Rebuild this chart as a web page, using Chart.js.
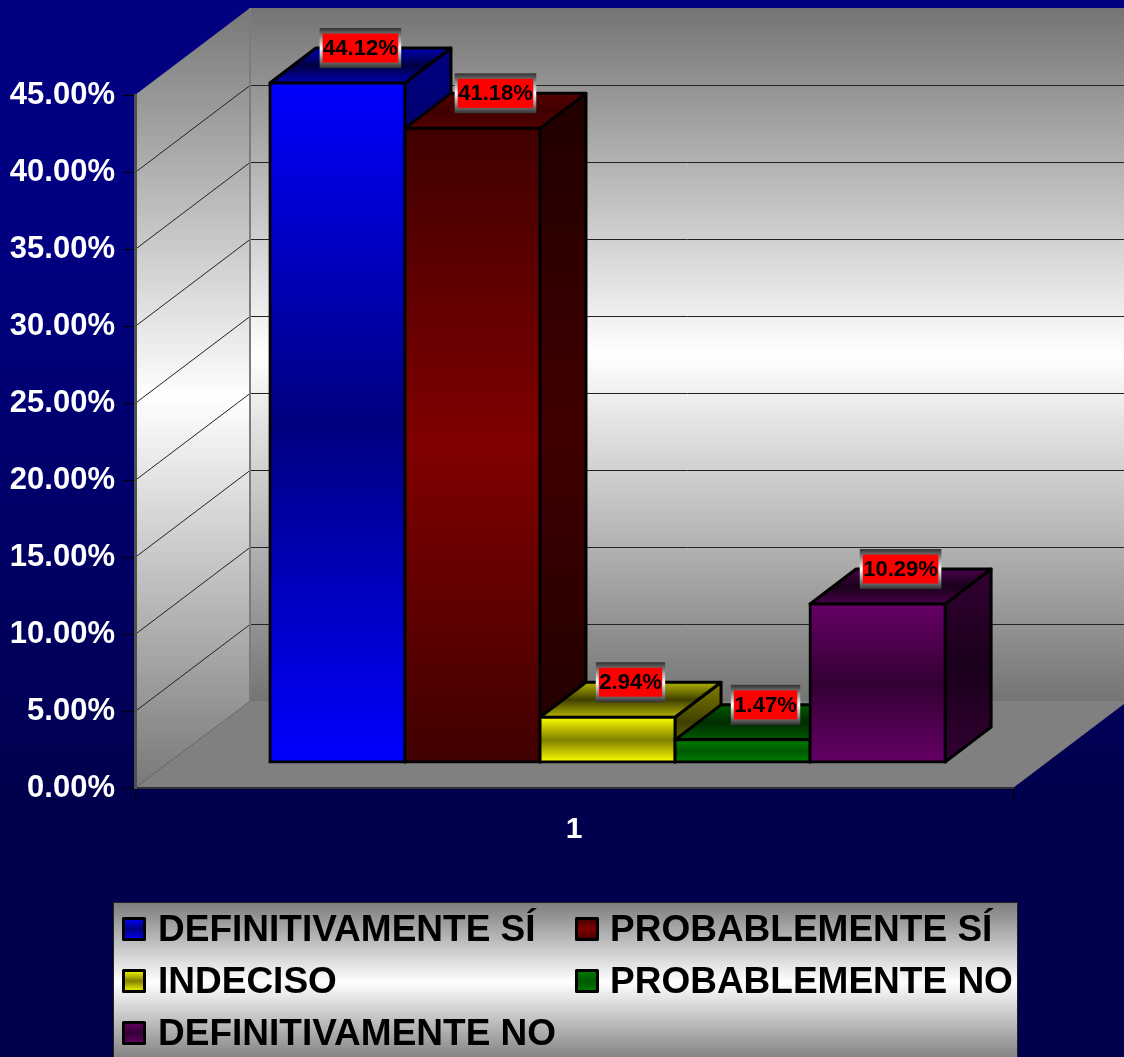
<!DOCTYPE html>
<html>
<head>
<meta charset="utf-8">
<title>Chart</title>
<script src="https://cdn.jsdelivr.net/npm/chart.js@4"></script>
<style>
    html, body { margin: 0; padding: 0; }
    body { width: 1124px; height: 1057px; overflow: hidden; background: linear-gradient(#000080 0, #000080 250px, #00004e 800px, #00004e 1057px); }
    canvas { display: block; }
</style>
</head>
<body>
<canvas id="myChart" width="1124" height="1057"></canvas>
<script>
// Chart data
const categories = ['1'];
const seriesNames = ['DEFINITIVAMENTE SÍ', 'PROBABLEMENTE SÍ', 'INDECISO', 'PROBABLEMENTE NO', 'DEFINITIVAMENTE NO'];
const seriesValues = [44.12, 41.18, 2.94, 1.47, 10.29];
const yTickValues = [0, 5, 10, 15, 20, 25, 30, 35, 40, 45];

// Bar colours: top/bottom of the front face and its middle
const edgeColors = ['#0000ff', '#400000', '#ffff00', '#008000', '#660066'];
const midColors = ['#000080', '#800000', '#808000', '#005800', '#330033'];

const FONT = '"Liberation Sans", Arial, sans-serif';
const WALL_DX = 115, WALL_DY = 87;     // depth of the floor
const SHIFT_X = 33.5, SHIFT_Y = -25.5; // bars stand a bit inside the floor
const BAR_DX = 46, BAR_DY = 35;        // depth of a bar

function shade(hex, f) {
    const n = parseInt(hex.slice(1), 16);
    const c = [n >> 16, (n >> 8) & 255, n & 255].map(v => Math.min(255, Math.round(v * f)));
    return `rgb(${c[0]},${c[1]},${c[2]})`;
}

function bandGradient(ctx, y0, y1, edge, mid) {
    const g = ctx.createLinearGradient(0, y0, 0, y1);
    g.addColorStop(0, edge);
    g.addColorStop(0.5, mid);
    g.addColorStop(1, edge);
    return g;
}

function poly(ctx, pts, fill) {
    ctx.beginPath();
    pts.forEach((p, i) => i ? ctx.lineTo(p[0], p[1]) : ctx.moveTo(p[0], p[1]));
    ctx.closePath();
    ctx.fillStyle = fill;
    ctx.fill();
    ctx.stroke();
}

// Back wall, side wall and floor
const wallsPlugin = {
    id: 'walls',
    beforeDraw(chart) {
        const ctx = chart.ctx;
        const a = chart.chartArea;
        const y = chart.scales.y;
        const zero = y.getPixelForValue(0);
        const top = y.getPixelForValue(45);
        ctx.save();
        ctx.fillStyle = bandGradient(ctx, top - WALL_DY, zero - WALL_DY, '#747474', '#ffffff');
        ctx.fillRect(a.left + WALL_DX, top - WALL_DY, a.right - a.left, zero - top);
        ctx.fillStyle = bandGradient(ctx, top - WALL_DY, zero, '#787878', '#ffffff');
        ctx.beginPath();
        ctx.moveTo(a.left, zero);
        ctx.lineTo(a.left, top);
        ctx.lineTo(a.left + WALL_DX, top - WALL_DY);
        ctx.lineTo(a.left + WALL_DX, zero - WALL_DY);
        ctx.closePath();
        ctx.fill();
        ctx.fillStyle = '#808080';
        ctx.beginPath();
        ctx.moveTo(a.left, zero);
        ctx.lineTo(a.left + WALL_DX, zero - WALL_DY);
        ctx.lineTo(a.right + WALL_DX, zero - WALL_DY);
        ctx.lineTo(a.right, zero);
        ctx.closePath();
        ctx.fill();
        // gridlines
        ctx.strokeStyle = '#222';
        ctx.lineWidth = 1;
        yTickValues.slice(1, -1).forEach(v => {
            const p = Math.round(y.getPixelForValue(v)) + 0.5;
            ctx.beginPath();
            ctx.moveTo(a.left, p);
            ctx.lineTo(a.left + WALL_DX, p - WALL_DY);
            ctx.lineTo(a.right + WALL_DX, p - WALL_DY);
            ctx.stroke();
        });
        ctx.strokeStyle = '#7c7c7c';
        ctx.lineWidth = 2;
        ctx.beginPath();
        ctx.moveTo(a.left + WALL_DX, top - WALL_DY);
        ctx.lineTo(a.left + WALL_DX, zero - WALL_DY);
        ctx.stroke();
        ctx.restore();
    }
};

// Bars go left to right so each one covers the side of the one before it
const depthPlugin = {
    id: 'depth',
    beforeDatasetsDraw(chart) {
        const ctx = chart.ctx;
        seriesValues.forEach((v, i) => {
            const meta = chart.getDatasetMeta(i);
            const bar = meta.data[0];
            const l = bar.x - bar.width / 2 + SHIFT_X;
            const r = bar.x + bar.width / 2 + SHIFT_X;
            const t = bar.y + SHIFT_Y;
            const b = bar.base + SHIFT_Y;
            ctx.save();
            ctx.strokeStyle = '#000';
            ctx.lineWidth = 3;
            ctx.lineJoin = 'round';
            poly(ctx, [[r, t], [r + BAR_DX, t - BAR_DY], [r + BAR_DX, b - BAR_DY], [r, b]],
                bandGradient(ctx, t - BAR_DY, b, shade(edgeColors[i], 0.5), shade(midColors[i], 0.5)));
            poly(ctx, [[l, t], [l + BAR_DX, t - BAR_DY], [r + BAR_DX, t - BAR_DY], [r, t]],
                bandGradient(ctx, t - BAR_DY, t, shade(edgeColors[i], i === 1 ? 1.3 : 0.7), shade(midColors[i], 0.5)));
            ctx.translate(SHIFT_X, SHIFT_Y);
            meta.controller.draw();
            ctx.restore();
        });
    },
    beforeDatasetDraw() {
        return false; // already drawn above
    }
};

// Red value boxes above the bars
const valueBoxPlugin = {
    id: 'valueBox',
    afterDatasetsDraw(chart) {
        const ctx = chart.ctx;
        ctx.save();
        ctx.font = 'bold 22px ' + FONT;
        ctx.textAlign = 'center';
        ctx.textBaseline = 'middle';
        seriesValues.forEach((v, i) => {
            const bar = chart.getDatasetMeta(i).data[0];
            const cx = bar.x + SHIFT_X + BAR_DX / 2;
            const cy = bar.y + SHIFT_Y - BAR_DY;
            const text = v.toFixed(2) + '%';
            const w = ctx.measureText(text).width + 7;
            ctx.fillStyle = bandGradient(ctx, cy - 20, cy + 20, '#303030', '#ffffff');
            ctx.fillRect(cx - w / 2, cy - 20, w, 40);
            ctx.fillStyle = '#ff0000';
            ctx.fillRect(cx - w / 2 + 3, cy - 14.5, w - 6, 29);
            ctx.fillStyle = '#000';
            ctx.fillText(text, cx, cy + 1);
        });
        ctx.restore();
    }
};

// Legend box, cut off by the bottom of the picture
const legendBoxPlugin = {
    id: 'legendBox',
    afterDraw(chart) {
        const ctx = chart.ctx;
        const rows = [929, 981, 1033];
        const cols = [122, 575];
        ctx.save();
        ctx.fillStyle = bandGradient(ctx, 902, 1062, '#7c7c7c', '#ffffff');
        ctx.fillRect(113, 902, 905, 155);
        ctx.strokeStyle = '#222';
        ctx.lineWidth = 1;
        ctx.strokeRect(113.5, 902.5, 904, 160);
        ctx.font = 'bold 37px ' + FONT;
        ctx.textAlign = 'left';
        ctx.textBaseline = 'middle';
        seriesNames.forEach((name, i) => {
            const x = cols[i % 2];
            const y = rows[Math.floor(i / 2)];
            ctx.fillStyle = bandGradient(ctx, y - 11, y + 11, edgeColors[i], midColors[i]);
            ctx.strokeStyle = '#000';
            ctx.lineWidth = 3;
            ctx.lineJoin = 'round';
            ctx.beginPath();
            ctx.rect(x + 1.5, y - 10.5, 21, 21);
            ctx.fill();
            ctx.stroke();
            ctx.fillStyle = '#000';
            ctx.fillText(name, x + (i % 2 ? 35 : 36), y + 2);
        });
        ctx.restore();
    }
};

const chart = new Chart(document.getElementById('myChart'), {
    type: 'bar',
    data: {
        labels: categories,
        datasets: seriesNames.map((name, i) => ({
            label: name,
            data: [seriesValues[i]],
            clip: false,
            borderColor: '#000',
            borderWidth: 3,
            borderSkipped: false,
            inflateAmount: 1.5,
            backgroundColor: c => {
                const area = c.chart.chartArea;
                if (!area) return edgeColors[i];
                const sc = c.chart.scales.y;
                return bandGradient(c.chart.ctx, sc.getPixelForValue(seriesValues[i]), sc.getPixelForValue(0), edgeColors[i], midColors[i]);
            }
        }))
    },
    options: {
        responsive: false,
        animation: false,
        categoryPercentage: 0.769,
        barPercentage: 1,
        layout: { padding: { top: 95, right: 111, left: 0, bottom: 0 } },
        plugins: { legend: { display: false }, tooltip: { enabled: false }, title: { display: false } },
        scales: {
            x: {
                afterFit: s => { s.height = 269; },
                grid: { offset: true, drawOnChartArea: false, tickLength: 12, tickColor: '#000' },
                border: { color: '#303030', width: 2 },
                ticks: { color: '#fff', padding: 12, font: { family: FONT, size: 30, weight: 'bold' } }
            },
            y: {
                min: 0,
                max: 45,
                afterFit: s => { s.width = 135; },
                afterBuildTicks: s => { s.ticks = yTickValues.map(v => ({ value: v })); },
                grid: { drawOnChartArea: false, tickLength: 12, tickColor: '#000' },
                border: { color: '#505050', width: 3 },
                ticks: {
                    color: '#fff',
                    padding: 8,
                    font: { family: FONT, size: 31, weight: 'bold' },
                    callback: v => v.toFixed(2) + '%'
                }
            }
        }
    },
    plugins: [wallsPlugin, depthPlugin, valueBoxPlugin, legendBoxPlugin]
});
</script>
</body>
</html>
